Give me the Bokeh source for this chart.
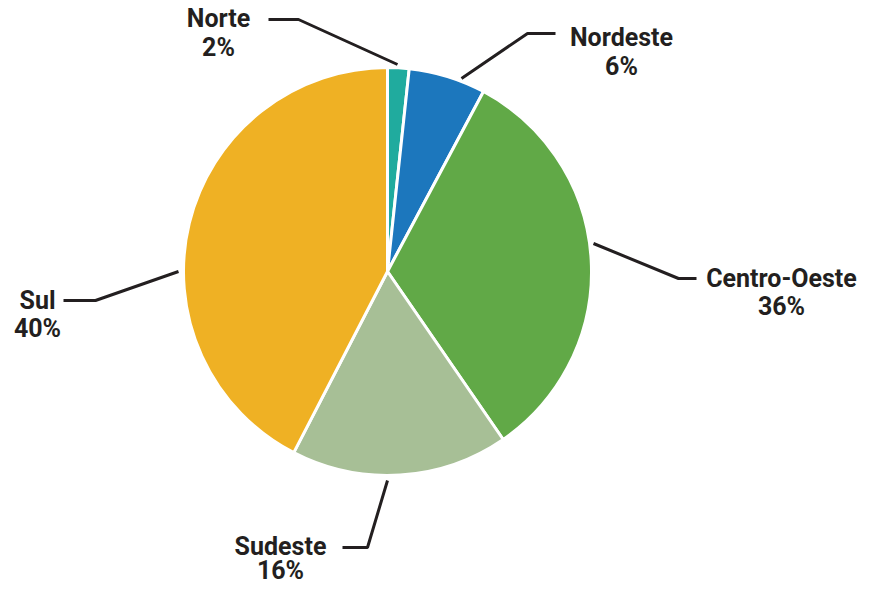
import math
from bokeh.plotting import figure
from bokeh.models import Range1d, ColumnDataSource
from bokeh.core.properties import value
from bokeh.embed import file_html
from bokeh.resources import INLINE

# ---- data ----
regions = ["Norte", "Nordeste", "Centro-Oeste", "Sudeste", "Sul"]
shares = [1.7, 6.1, 32.6, 17.2, 42.4]          # slice sizes as drawn
pct_labels = ["2%", "6%", "36%", "16%", "40%"]  # printed labels
colors = ["#20ab9e", "#1c77bd", "#61a947", "#a7bf96", "#efb124"]

# ---- layout (screen-like coordinates, y measured downward) ----
W, H = 861, 587
def Y(sy):
    return H - sy

cx, cy, r = 387, 271, 204
label_xy = [(218, 18), (621, 37), (781, 278), (280, 546), (37, 300)]
line_gaps = [29, 29, 28, 24, 28]
leaders = [
    [(268, 19), (298, 19), (397, 64)],
    [(461, 78), (527, 33), (555, 33)],
    [(593, 243), (678, 278), (696, 278)],
    [(387, 480), (367, 547), (342, 547)],
    [(63, 300), (95, 300), (178, 271)],
]

p = figure(width=W, height=H, output_backend="svg", toolbar_location=None,
           x_range=Range1d(0, W), y_range=Range1d(0, H),
           min_border=0, outline_line_color=None)
p.axis.visible = False
p.grid.visible = False
p.background_fill_color = "white"
p.border_fill_color = "white"

total = sum(shares)
starts, ends = [], []
acc = 0.0
for s in shares:
    starts.append(math.pi / 2 - 2 * math.pi * acc / total)
    acc += s
    ends.append(math.pi / 2 - 2 * math.pi * acc / total)

src = ColumnDataSource(dict(start=starts, end=ends, color=colors))
p.wedge(x=cx, y=Y(cy), radius=r, start_angle="start", end_angle="end",
        direction="clock", fill_color="color", line_color="white",
        line_width=3, source=src)

for pts in leaders:
    p.line([q[0] for q in pts], [Y(q[1]) for q in pts],
           line_color="#231f20", line_width=3)

font = value("Roboto")
p.text(x=[q[0] for q in label_xy], y=[Y(q[1]) for q in label_xy], text=regions,
       text_align="center", text_baseline="middle", text_font=font,
       text_font_style="bold", text_font_size="25px", text_color="#231f20")
p.text(x=[q[0] for q in label_xy],
       y=[Y(q[1] + g) for q, g in zip(label_xy, line_gaps)],
       text=pct_labels, text_align="center", text_baseline="middle",
       text_font=font, text_font_style="bold", text_font_size="25px",
       text_color="#231f20")

open("out.html", "w").write(file_html(p, INLINE))
